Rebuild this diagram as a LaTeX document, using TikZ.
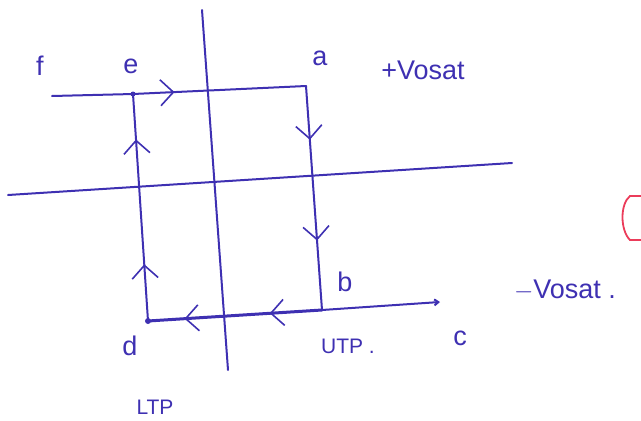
\documentclass[tikz,border=0pt]{standalone}
\usepackage{fontspec}
\setmainfont{Liberation Sans}
\usetikzlibrary{arrows.meta,decorations.markings}
\definecolor{pen}{RGB}{62,48,178}
\definecolor{redpen}{RGB}{235,60,90}
\tikzset{
  ink/.style={draw=pen, line width=2pt, line cap=round},
  lbl/.style={text=pen, font=\fontsize{27}{29}\selectfont, inner sep=1pt},
  chev/.style={postaction={decorate, decoration={markings,
     mark=at position #1 with {\arrow[pen, line width=1.6pt]{Straight Barb[length=13pt,width=26pt]}}}}}
}
\begin{document}
\begin{tikzpicture}[x=1pt,y=-1pt]
\useasboundingbox (0,0) rectangle (641,421);
% axes
\coordinate (vt) at (202,10);
\coordinate (vb) at (228,370);
\coordinate (hl) at (8,195);
\coordinate (hr) at (512,163);
\draw[ink] (vt) -- (vb);
\draw[ink] (hl) -- (hr);
% loop points
\coordinate (f0) at (52,96);
\coordinate (e) at (133,94);
\coordinate (a) at (306,86);
\coordinate (b) at (322,310);
\coordinate (d) at (148,321);
\coordinate (c) at (440,302);
\draw[ink] (f0) -- (e);
\draw[ink, chev=0.24] (e) -- (a);
\draw[ink, chev=0.24, chev=0.69] (a) -- (b);
\draw[ink, -{Straight Barb[length=4pt,width=6pt]}] (b) -- (c);
\draw[ink, line width=3pt, chev=0.3, chev=0.79] (b) -- (d);
\draw[ink, chev=0.25, chev=0.8] (d) -- (e);
\fill[pen] (d) circle (3pt);
\fill[pen] (e) circle (2.5pt);
% labels
\node[lbl] (lf) at (40,66) {f};
\node[lbl] (le) at (131,66) {e};
\node[lbl] (la) at (320,58) {a};
\node[lbl] (lvp) at (423,70) {+Vosat};
\node[lbl] (lb) at (345,282) {b};
\node[lbl] (lvm) at (565,290) {$-$Vosat .};
\node[lbl] (lc) at (460,338) {c};
\node[lbl] (ld) at (130,346) {d};
\node[lbl, font=\fontsize{21}{23}\selectfont] (lutp) at (348,346) {UTP .};
\node[lbl, font=\fontsize{21}{23}\selectfont] (lltp) at (155,407) {LTP};
% red bracket at right edge
\draw[draw=redpen, line width=1.8pt, line cap=round] (641,196) -- (630,196) .. controls (620,204) and (620,230) .. (630,240) -- (641,240);
\end{tikzpicture}
\end{document}
